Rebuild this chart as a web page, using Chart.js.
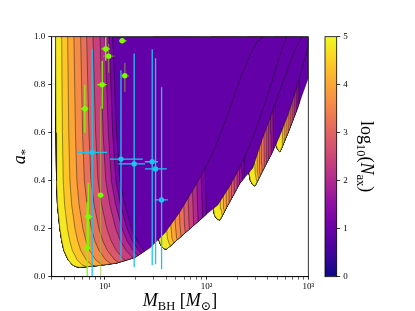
<!DOCTYPE html>
<html>
<head>
<meta charset="utf-8">
<script src="https://cdn.jsdelivr.net/npm/chart.js@4.4.1/dist/chart.umd.min.js"></script>
<style>
  html, body { margin: 0; padding: 0; background: #fff; }
  #wrap { position: relative; width: 415px; height: 311px; }
  #main { position: absolute; left: 0; top: 0; }
  #cbar { position: absolute; left: 318px; top: 0; }
</style>
</head>
<body>
<div id="wrap">
  <canvas id="main" width="415" height="311"></canvas>
  <canvas id="cbar" width="97" height="311"></canvas>
</div>
<script>
// ---- values ----
var massRange = [3, 1000];
var spinTicks = [0, 0.2, 0.4, 0.6, 0.8, 1.0];
var massMajorTicks = [10, 100, 1000];
var massTickLabels = ['10\u00b9', '10\u00b2', '10\u00b3'];
var cbarTicks = [0, 1, 2, 3, 4, 5];

// lower-left (slow growth) edge of each mode region, from a = 1 down to its tip
var edge1Mass = [3.28, 3.31, 3.35, 3.42, 3.61, 3.77, 3.95, 4.36, 4.81, 5.31, 5.68];
var edge1Spin = [1.0, 0.6, 0.4, 0.3, 0.2, 0.15, 0.11, 0.07, 0.049, 0.041, 0.039];
// how much wider the l = 1 contour fan gets at each of those spins
var edge1Spread = [1.0, 1.06, 1.11, 1.18, 1.26, 1.32, 1.4, 1.5, 1.6, 1.7, 1.75];
var edge2Mass = [30, 31.5, 32.5, 33.5, 35.5, 38, 40.5];
var edge2Spin = [1.0, 0.4, 0.22, 0.16, 0.13, 0.117, 0.115];
var edge3Mass = [112, 114, 115.5, 116.5, 120, 127, 135];
var edge3Spin = [1.0, 0.45, 0.32, 0.283, 0.255, 0.24, 0.236];
var edge4Mass = [255, 258, 260, 261, 270, 285, 299];
var edge4Spin = [1.0, 0.6, 0.47, 0.434, 0.40, 0.383, 0.378];
var edge5Mass = [470, 475, 479, 481, 495, 512, 526];
var edge5Spin = [1.0, 0.7, 0.58, 0.551, 0.535, 0.524, 0.52];

// superradiance boundary of each mode, from its tip upwards
var bound1Mass = [5.68, 8.93, 13.1, 19.7, 27.7, 38.9, 54.7, 80.4, 115, 158, 212, 267, 312, 358];
var bound1Spin = [0.039, 0.047, 0.057, 0.080, 0.120, 0.182, 0.270, 0.390, 0.515, 0.665, 0.820, 0.924, 0.978, 1.0];
var bound2Mass = [40.5, 61.2, 103, 129, 169, 213, 267, 334, 419, 502, 563, 616];
var bound2Spin = [0.115, 0.182, 0.265, 0.299, 0.378, 0.457, 0.549, 0.661, 0.786, 0.895, 0.961, 1.0];
var bound3Mass = [135, 162, 213, 285, 350, 439, 550, 659, 773, 865];
var bound3Spin = [0.236, 0.299, 0.390, 0.453, 0.570, 0.682, 0.799, 0.890, 0.965, 1.0];
var bound4Mass = [299, 350, 439, 514, 630, 755, 885, 1000];
var bound4Spin = [0.378, 0.436, 0.515, 0.578, 0.674, 0.778, 0.882, 0.957];
var bound5Mass = [526, 630, 773, 885, 1000];
var bound5Spin = [0.52, 0.599, 0.695, 0.765, 0.828];

// where each log10(N_ax) contour sits, in decades of mass to the right of the edge
var fan1Offsets = [0.059, 0.118, 0.180, 0.246, 0.305, 0.367, 0.436, 0.485, 0.525, 0.561];
var fan2Offsets = [0.09, 0.135, 0.18, 0.225, 0.27, 0.315, 0.36, 0.405, 0.45, 0.49];
var fan3Offsets = [0.075, 0.103, 0.131, 0.159, 0.187, 0.214, 0.241, 0.266, 0.29, 0.312];
var fan4Offsets = [0.06, 0.083, 0.106, 0.129, 0.152, 0.175, 0.198, 0.221, 0.243, 0.265];
var fan5Offsets = [0.065, 0.085, 0.105, 0.125, 0.145, 0.165, 0.185, 0.205, 0.224, 0.242];

// measured black holes (green set)
var greenMass   = [14.8, 10.2, 10.9, 9.41, 15.7, 6.36, 9.08, 6.86, 6.70];
var greenSpin   = [0.983, 0.949, 0.919, 0.80, 0.837, 0.70, 0.34, 0.25, 0.12];
var greenMassLo = [13.8, 9.27, 9.55, 8.39, 14.3, 5.81, 8.39, 6.35, 6.2];
var greenMassHi = [16.3, 11.2, 12.5, 10.4, 17.3, 6.86, 9.8, 7.5, 7.2];
var greenSpinLo = [0.974, 0.90, 0.85, 0.70, 0.77, 0.60, 0.0, 0.11, 0.0];
var greenSpinHi = [0.995, 1.0, 0.97, 0.90, 0.89, 0.80, 0.71, 0.39, 0.31];
var greenFaint  = [0, 0, 1, 0, 1, 0, 1, 0, 0];

// measured black holes (cyan set)
var cyanMass   = [7.5, 14.4, 19.4, 29.2, 31.5, 36.1];
var cyanSpin   = [0.518, 0.49, 0.47, 0.479, 0.449, 0.32];
var cyanMassLo = [5.4, 11.2, 13.6, 24.7, 24.8, 30.8];
var cyanMassHi = [10.5, 23.6, 24.8, 33.4, 40.7, 41.6];
var cyanSpinLo = [-0.02, 0.07, 0.04, 0.049, 0.052, 0.031];
var cyanSpinHi = [0.95, 0.86, 0.93, 0.948, 0.91, 0.789];

// ---- styling ----
var serif = '"Liberation Serif", "DejaVu Serif", serif';
Chart.defaults.font.family = serif;
Chart.defaults.font.size = 9;
Chart.defaults.color = '#000';

// band colours, yellow band next to the edge first, saturated region last
var bandColors = ['#f5e823', '#fcc628', '#fca636', '#f48b47', '#e87159', '#d9586b',
                  '#c7417d', '#b12a90', '#9613a0', '#7905a6', '#6400a7'];
var plasma = ['#0d0887', '#41049d', '#6a00a8', '#8f0da4', '#b12a90', '#cc4778',
              '#e16462', '#f2844b', '#fca636', '#fcce25', '#f0f921'];
var contourLine = 'rgba(0,0,0,0.8)';

function pairs(ms, ss) {
  return ms.map(function (m, i) { return [m, ss[i]]; });
}

var regions = [
  { edge: pairs(edge1Mass, edge1Spin), bound: pairs(bound1Mass, bound1Spin), offsets: fan1Offsets, spread: edge1Spread },
  { edge: pairs(edge2Mass, edge2Spin), bound: pairs(bound2Mass, bound2Spin), offsets: fan2Offsets },
  { edge: pairs(edge3Mass, edge3Spin), bound: pairs(bound3Mass, bound3Spin), offsets: fan3Offsets },
  { edge: pairs(edge4Mass, edge4Spin), bound: pairs(bound4Mass, bound4Spin), offsets: fan4Offsets },
  { edge: pairs(edge5Mass, edge5Spin), bound: pairs(bound5Mass, bound5Spin), offsets: fan5Offsets }
];

// segment intersection in (log M, a)
function segHit(p1, p2, q1, q2) {
  var rx = p2[0] - p1[0], ry = p2[1] - p1[1];
  var sx = q2[0] - q1[0], sy = q2[1] - q1[1];
  var d = rx * sy - ry * sx;
  if (Math.abs(d) < 1e-12) return null;
  var wx = q1[0] - p1[0], wy = q1[1] - p1[1];
  var t = (wx * sy - wy * sx) / d;
  var u = (wx * ry - wy * rx) / d;
  if (t < 0 || t > 1 || u < 0 || u > 1) return null;
  return { t: t, x: p1[0] + t * rx, y: p1[1] + t * ry };
}

// area between the region edge and one contour, cut off by the boundary
function bandPolygon(edge, bound, curve) {
  var lg = function (p) { return [Math.log10(p[0]), p[1]]; };
  var c = curve.map(lg), b = bound.map(lg);
  for (var i = 0; i < c.length - 1; i++) {
    var best = null, bj = -1;
    for (var j = 0; j < b.length - 1; j++) {
      var hit = segHit(c[i], c[i + 1], b[j], b[j + 1]);
      if (hit && (!best || hit.t < best.t)) { best = hit; bj = j; }
    }
    if (best) {
      var poly = edge.slice();
      for (var k = 1; k <= bj; k++) poly.push(bound[k]);
      poly.push([Math.pow(10, best.x), best.y]);
      for (var k2 = i; k2 >= 0; k2--) poly.push(curve[k2]);
      return poly;
    }
  }
  return edge.concat(bound.slice(1), curve.slice().reverse());
}

var datasets = [];
var paintIndex = 0;
function addPolygon(points, color) {
  datasets.push({
    type: 'line',
    data: points.map(function (p) { return { x: p[0], y: p[1] }; }),
    fill: 'shape',
    backgroundColor: color,
    borderColor: contourLine,
    borderWidth: 0.5,
    pointRadius: 0,
    tension: 0,
    order: 1000 - paintIndex
  });
  paintIndex++;
}

// higher modes first, so the l = 1 region ends up on top
for (var r = regions.length - 1; r >= 0; r--) {
  var reg = regions[r];
  var outline = reg.edge.concat(reg.bound.slice(1));
  var last = outline[outline.length - 1];
  if (last[1] < 1) outline.push([last[0], 1]);
  addPolygon(outline, bandColors[bandColors.length - 1]);
  for (var k = reg.offsets.length - 1; k >= 0; k--) {
    var off = reg.offsets[k], spread = reg.spread;
    var curve = reg.edge.map(function (p, i) {
      return [p[0] * Math.pow(10, off * (spread ? spread[i] : 1)), p[1]];
    });
    addPolygon(bandPolygon(reg.edge, reg.bound, curve), bandColors[k]);
  }
}

function pointData(ms, ss) {
  return ms.map(function (m, i) { return { x: m, y: ss[i] }; });
}

datasets.push({
  type: 'scatter',
  data: pointData(cyanMass, cyanSpin),
  backgroundColor: '#1cc3ee',
  pointRadius: 2.7,
  pointBorderWidth: 0,
  order: 1,
  errors: { xlo: cyanMassLo, xhi: cyanMassHi, ylo: cyanSpinLo, yhi: cyanSpinHi,
            faint: cyanMass.map(function () { return 0; }), color: '#1cc3ee', faintColor: '#1cc3ee' }
});
datasets.push({
  type: 'scatter',
  data: pointData(greenMass, greenSpin),
  backgroundColor: '#7cfc00',
  pointRadius: 2.7,
  pointBorderWidth: 0,
  order: 0,
  errors: { xlo: greenMassLo, xhi: greenMassHi, ylo: greenSpinLo, yhi: greenSpinHi,
            faint: greenFaint, color: '#7cfc00', faintColor: 'rgba(150,200,40,0.55)' }
});

// error bars are drawn just before their markers
var errorBars = {
  id: 'errorBars',
  beforeDatasetDraw: function (chart, args) {
    var ds = chart.data.datasets[args.index];
    if (!ds.errors) return;
    var xs = chart.scales.x, ys = chart.scales.y, ctx = chart.ctx, e = ds.errors, a = chart.chartArea;
    ctx.save();
    ctx.beginPath();
    ctx.rect(a.left, a.top, a.right - a.left, a.bottom - a.top);
    ctx.clip();
    ctx.lineWidth = 1.3;
    ds.data.forEach(function (p, i) {
      ctx.strokeStyle = e.faint[i] ? e.faintColor : e.color;
      var px = xs.getPixelForValue(p.x), py = ys.getPixelForValue(p.y);
      ctx.beginPath();
      ctx.moveTo(xs.getPixelForValue(e.xlo[i]), py);
      ctx.lineTo(xs.getPixelForValue(e.xhi[i]), py);
      ctx.moveTo(px, ys.getPixelForValue(e.ylo[i]));
      ctx.lineTo(px, ys.getPixelForValue(e.yhi[i]));
      ctx.stroke();
    });
    ctx.restore();
  }
};

var frame = {
  id: 'frame',
  afterDraw: function (chart) {
    var a = chart.chartArea, ctx = chart.ctx;
    ctx.save();
    ctx.strokeStyle = '#000';
    ctx.lineWidth = 0.8;
    ctx.strokeRect(a.left, a.top, a.right - a.left, a.bottom - a.top);
    ctx.restore();
  }
};

// text with italic letters and subscripts, centred on (x, y)
function drawRich(ctx, parts, x, y, angle) {
  ctx.save();
  ctx.translate(x, y);
  ctx.rotate(angle);
  ctx.fillStyle = '#000';
  ctx.textBaseline = 'alphabetic';
  var fontOf = function (p) { return (p.it ? 'italic ' : '') + p.size + 'px ' + serif; };
  var w = 0;
  parts.forEach(function (p) { ctx.font = fontOf(p); w += ctx.measureText(p.t).width; });
  var cx = -w / 2;
  parts.forEach(function (p) {
    ctx.font = fontOf(p);
    ctx.fillText(p.t, cx, p.sub ? 4 : 0);
    cx += ctx.measureText(p.t).width;
  });
  ctx.restore();
}

var axisTitles = {
  id: 'axisTitles',
  afterDraw: function (chart) {
    var a = chart.chartArea, ctx = chart.ctx;
    drawRich(ctx, [
      { t: 'M', size: 18, it: true }, { t: 'BH', size: 12.5, sub: true },
      { t: ' [', size: 18 }, { t: 'M', size: 18, it: true },
      { t: '\u2299', size: 12.5, sub: true }, { t: ']', size: 18 }
    ], (a.left + a.right) / 2, 306, 0);
    drawRich(ctx, [
      { t: 'a', size: 18, it: true }, { t: '*', size: 12.5, sub: true }
    ], 25, (a.top + a.bottom) / 2, -Math.PI / 2);
  }
};

new Chart(document.getElementById('main'), {
  type: 'line',
  data: { datasets: datasets },
  options: {
    responsive: false,
    animation: false,
    layout: { padding: { left: 0, top: 36.7, right: 106.7, bottom: 0 } },
    plugins: { legend: { display: false }, tooltip: { enabled: false } },
    scales: {
      x: {
        type: 'logarithmic',
        min: massRange[0],
        max: massRange[1],
        afterFit: function (s) { s.height = 34.3; },
        afterBuildTicks: function (s) {
          var t = [];
          for (var d = 1; d <= 100; d *= 10) {
            for (var m = 1; m <= 9; m++) {
              if (m * d >= massRange[0]) t.push({ value: m * d, major: m === 1 });
            }
          }
          t.push({ value: 1000, major: true });
          s.ticks = t;
        },
        grid: {
          drawOnChartArea: false,
          tickLength: 3,
          tickColor: '#000',
          tickWidth: function (c) { return c.tick && c.tick.major ? 0.8 : 0.6; }
        },
        border: { color: '#000', width: 0.8 },
        ticks: {
          autoSkip: false,
          maxRotation: 0,
          padding: 2,
          font: { size: 9 },
          callback: function (v) {
            var i = massMajorTicks.indexOf(v);
            return i >= 0 ? massTickLabels[i] : '';
          }
        }
      },
      y: {
        min: 0,
        max: 1,
        afterFit: function (s) { s.width = 51.7; },
        afterBuildTicks: function (s) {
          s.ticks = spinTicks.map(function (v) { return { value: v }; });
        },
        grid: { drawOnChartArea: false, tickLength: 3.5, tickColor: '#000', tickWidth: 0.8 },
        border: { color: '#000', width: 0.8 },
        ticks: {
          padding: 3,
          font: { size: 9 },
          callback: function (v) { return v.toFixed(1); }
        }
      }
    }
  },
  plugins: [errorBars, frame, axisTitles]
});

// ---- colour bar ----
var cbarTitle = {
  id: 'cbarTitle',
  afterDraw: function (chart) {
    var a = chart.chartArea;
    drawRich(chart.ctx, [
      { t: 'log', size: 18 }, { t: '10', size: 12.5, sub: true },
      { t: '(', size: 18 }, { t: 'N', size: 18, it: true },
      { t: 'ax', size: 12.5, sub: true }, { t: ')', size: 18 }
    ], 43, (a.top + a.bottom) / 2, Math.PI / 2);
  }
};

new Chart(document.getElementById('cbar'), {
  type: 'bar',
  data: {
    labels: [''],
    datasets: [{
      data: [[cbarTicks[0], cbarTicks[cbarTicks.length - 1]]],
      borderWidth: 0,
      barPercentage: 1,
      categoryPercentage: 1,
      backgroundColor: function (c) {
        var a = c.chart.chartArea;
        if (!a) return plasma[5];
        var g = c.chart.ctx.createLinearGradient(0, a.bottom, 0, a.top);
        plasma.forEach(function (col, i) { g.addColorStop(i / (plasma.length - 1), col); });
        return g;
      }
    }]
  },
  options: {
    responsive: false,
    animation: false,
    layout: { padding: { left: 7, top: 36.7, right: 58.3, bottom: 34.3 } },
    plugins: { legend: { display: false }, tooltip: { enabled: false } },
    scales: {
      x: { display: false },
      y: {
        position: 'right',
        min: 0,
        max: 5,
        afterFit: function (s) { s.width = 20; },
        afterBuildTicks: function (s) {
          s.ticks = cbarTicks.map(function (v) { return { value: v }; });
        },
        grid: { drawOnChartArea: false, tickLength: 3.5, tickColor: '#000', tickWidth: 0.8 },
        border: { display: false },
        ticks: { padding: 3, font: { size: 9 } }
      }
    }
  },
  plugins: [frame, cbarTitle]
});
</script>
</body>
</html>
